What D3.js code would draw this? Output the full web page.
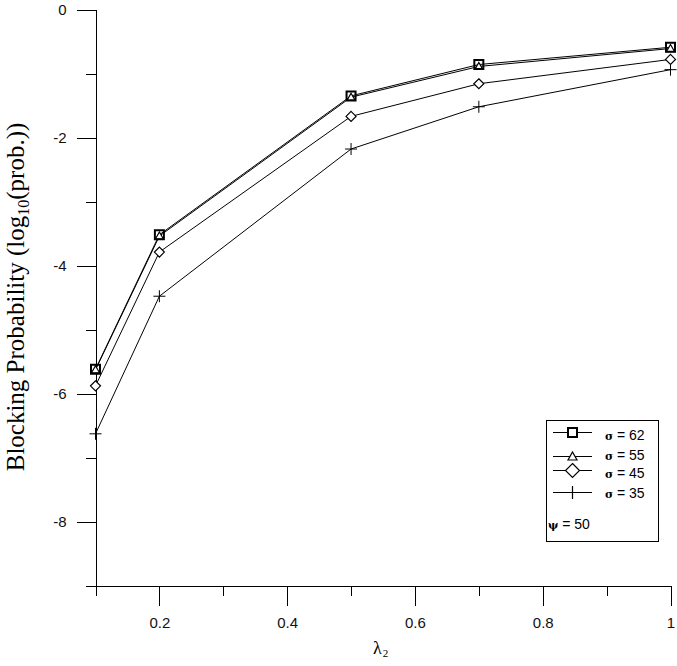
<!DOCTYPE html>
<html>
<head>
<meta charset="utf-8">
<script src="https://cdn.jsdelivr.net/npm/d3@7"></script>
<style>
  body { margin: 0; background: #fff; }
  svg { display: block; }
  .tick text { font-family: "Liberation Sans", Arial, sans-serif; font-size: 15px; fill: #111; }
</style>
</head>
<body>
<div id="chart"></div>
<script>
// lambda_2 values on the x axis, log10 blocking probability per sigma
const lambda2 = [0.1, 0.2, 0.5, 0.7, 1.0];
const sigma62 = [-5.62, -3.52, -1.35, -0.86, -0.59];
const sigma55 = [-5.63, -3.54, -1.37, -0.89, -0.61];
const sigma45 = [-5.88, -3.79, -1.67, -1.16, -0.78];
const sigma35 = [-6.63, -4.48, -2.18, -1.52, -0.94];
const sigmaLabels = ['62', '55', '45', '35'];
const psiLabel = '50';

const xMajorTicks = [0.2, 0.4, 0.6, 0.8, 1];
const xMinorTicks = [0.1, 0.3, 0.5, 0.7, 0.9];
const yMajorTicks = [0, -2, -4, -6, -8];
const yMinorTicks = [-1, -3, -5, -7, -9];

const w = 677;
const h = 666;

const svg = d3.select('#chart')
    .append('svg')
    .attr('width', w)
    .attr('height', h);

const xScale = d3.scaleLinear().domain([0.1, 1]).range([95.5, 670.5]);
const yScale = d3.scaleLinear().domain([-9, 0]).range([585.5, 9.5]);

// marker shapes
const markerPath = {
    square: 'M-4.5,-4.5H4.5V4.5H-4.5Z',
    triangle: 'M0,-4L4,3H-4Z',
    diamond: 'M0,-5L5,0L0,5L-5,0Z',
    plus: 'M-6,0H6M0,-6V6'
};
const legendPath = {
    square: 'M-4.5,-4.5H4.5V4.5H-4.5Z',
    triangle: 'M0,-4.5L4.5,3.5H-4.5Z',
    diamond: 'M0,-7L7,0L0,7L-7,0Z',
    plus: 'M-6,0H6M0,-6.5V6.5'
};

const series = [
    { label: sigmaLabels[3], values: sigma35, shape: 'plus', sw: 1 },
    { label: sigmaLabels[2], values: sigma45, shape: 'diamond', sw: 1.2 },
    { label: sigmaLabels[1], values: sigma55, shape: 'triangle', sw: 1.2 },
    { label: sigmaLabels[0], values: sigma62, shape: 'square', sw: 2 }
];

// axes
const yMajor = d3.axisLeft(yScale).tickValues(yMajorTicks).tickSize(19).tickPadding(10)
    .tickFormat(d => String(d));
const yMinor = d3.axisLeft(yScale).tickValues(yMinorTicks).tickSize(10).tickFormat('');
const xMajor = d3.axisBottom(xScale).tickValues(xMajorTicks).tickSize(20).tickPadding(12)
    .tickFormat(d => String(d));
const xMinor = d3.axisBottom(xScale).tickValues(xMinorTicks).tickSize(10).tickFormat('');

const axisG = svg.append('g').attr('shape-rendering', 'crispEdges');
axisG.append('g').attr('transform', 'translate(95.5,0)').call(yMajor.tickSizeOuter(0));
axisG.append('g').attr('transform', 'translate(95.5,0)').call(yMinor.tickSizeOuter(0));
axisG.append('g').attr('transform', 'translate(0,585.5)').call(xMajor.tickSizeOuter(0));
axisG.append('g').attr('transform', 'translate(0,585.5)').call(xMinor.tickSizeOuter(0));
axisG.selectAll('.domain').attr('stroke', '#000');
axisG.selectAll('.tick line').attr('stroke', '#000');

// lines
const line = d3.line()
    .x((d, i) => xScale(lambda2[i]))
    .y(d => yScale(d));

series.forEach(s => {
    svg.append('path')
        .datum(s.values)
        .attr('d', line)
        .attr('fill', 'none')
        .attr('stroke', '#000')
        .attr('stroke-width', 1);
});

series.forEach(s => {
    svg.append('g')
        .selectAll('path')
        .data(s.values)
        .enter()
        .append('path')
        .attr('transform', (d, i) => 'translate(' + xScale(lambda2[i]) + ',' + yScale(d) + ')')
        .attr('d', markerPath[s.shape])
        .attr('fill', s.shape === 'plus' ? 'none' : '#fff')
        .attr('fill-opacity', s.shape === 'square' ? 0 : 1)
        .attr('stroke', '#000')
        .attr('stroke-width', s.sw);
});

// axis titles
const yTitle = svg.append('text')
    .attr('transform', 'translate(24,297) rotate(-90)')
    .attr('text-anchor', 'middle')
    .attr('font-family', '"Liberation Serif", "Times New Roman", serif')
    .attr('font-size', 25)
    .attr('fill', '#000');
yTitle.append('tspan').text('Blocking Probability (log');
yTitle.append('tspan').attr('font-size', 16).attr('dy', 5).text('10');
yTitle.append('tspan').attr('dy', -5).text('(prob.))');

const xTitle = svg.append('text')
    .attr('x', 373)
    .attr('y', 654)
    .attr('font-family', '"Liberation Serif", "Times New Roman", serif')
    .attr('font-size', 18)
    .attr('fill', '#000');
xTitle.append('tspan').text('λ');
xTitle.append('tspan').attr('font-size', 11).attr('dy', 3).attr('dx', 1).text('2');

// legend
const legend = svg.append('g');
legend.append('rect')
    .attr('x', 546.5).attr('y', 420.5)
    .attr('width', 112).attr('height', 121)
    .attr('fill', '#fff').attr('stroke', '#000')
    .attr('shape-rendering', 'crispEdges');

const legendRows = [
    { s: series[3], y: 432.5, ty: 435 },
    { s: series[2], y: 456.5, ty: 454.5 },
    { s: series[1], y: 470.5, ty: 472.5 },
    { s: series[0], y: 492.5, ty: 492.5 }
];

legendRows.forEach(r => {
    legend.append('line')
        .attr('x1', 553).attr('x2', 592)
        .attr('y1', r.y).attr('y2', r.y)
        .attr('stroke', '#000');
    legend.append('path')
        .attr('transform', 'translate(572.5,' + r.y + ')')
        .attr('d', legendPath[r.s.shape])
        .attr('fill', r.s.shape === 'plus' ? 'none' : '#fff')
        .attr('stroke', '#000')
        .attr('stroke-width', r.s.shape === 'square' ? 2 : 1.2);
    const t = legend.append('text')
        .attr('x', 605).attr('y', r.ty + 5)
        .attr('font-family', '"Liberation Sans", Arial, sans-serif')
        .attr('font-size', 14)
        .attr('fill', '#000');
    t.append('tspan').attr('font-family', '"DejaVu Serif", serif').attr('font-size', 11)
        .attr('font-weight', 'bold').text('σ');
    t.append('tspan').text(' = ' + r.s.label);
});

const psiText = legend.append('text')
    .attr('x', 548).attr('y', 528.5)
    .attr('font-family', '"Liberation Sans", Arial, sans-serif')
    .attr('font-size', 14)
    .attr('fill', '#000');
psiText.append('tspan').attr('font-family', '"DejaVu Serif", serif').attr('font-size', 11)
    .attr('font-weight', 'bold').text('ψ');
psiText.append('tspan').text(' = ' + psiLabel);
</script>
</body>
</html>
